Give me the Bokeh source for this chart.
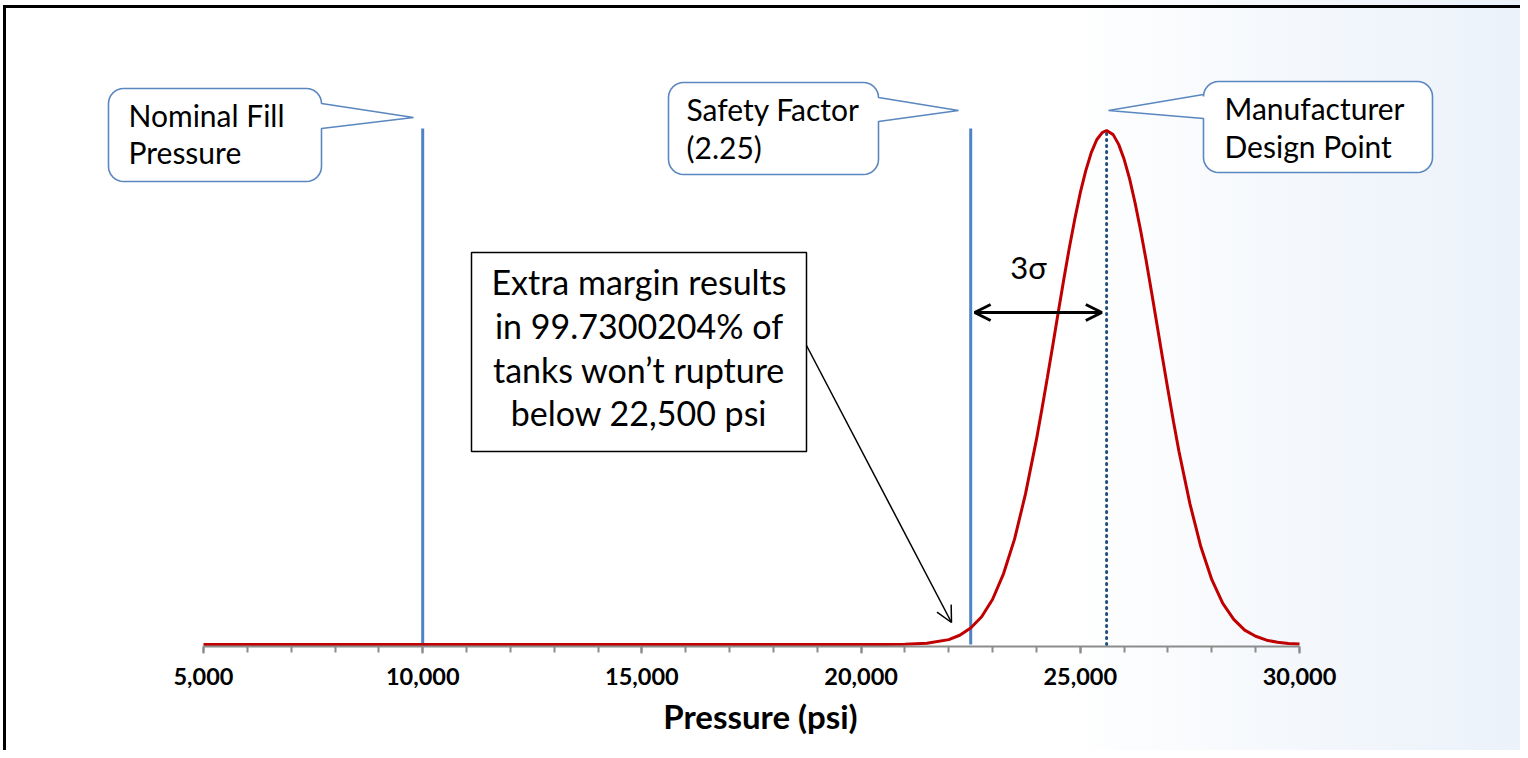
from bokeh.plotting import figure
from bokeh.models import Range1d, SingleIntervalTicker, NumeralTickFormatter, Arrow, OpenHead
from bokeh.core.properties import value
from bokeh.embed import file_html
from bokeh.resources import INLINE
import math

# ---------------- data ----------------
pressure_psi = [5000, 10000, 15000, 19000, 20000, 20500, 21000,
                21500, 22000, 22250, 22500, 22750, 23000, 23250, 23500, 23750, 24000,
                24125, 24250, 24375, 24500, 24625, 24750, 24875, 25000, 25125, 25250,
                25375, 25500, 25600, 25750, 25875, 26000, 26125, 26250, 26375, 26500,
                26625, 26750, 26875, 27000, 27125, 27250, 27500, 27750, 28000, 28250,
                28500, 28750, 29000, 29250, 29500, 29750, 30000]
relative_density = [0, 0, 0, 0, 0.0001, 0.0002, 0.0005,
                    0.0024, 0.0095, 0.018, 0.032, 0.054, 0.088, 0.138, 0.205, 0.293, 0.399,
                    0.458, 0.520, 0.583, 0.648, 0.711, 0.772, 0.828, 0.879, 0.922, 0.957,
                    0.982, 0.996, 1.0, 0.992, 0.973, 0.944, 0.906, 0.859, 0.806, 0.748,
                    0.686, 0.622, 0.558, 0.495, 0.434, 0.376, 0.274, 0.190, 0.126, 0.080,
                    0.049, 0.028, 0.016, 0.0084, 0.0042, 0.0021, 0.001]

nominal_fill_psi = 10000
safety_factor_psi = 22500
design_point_psi = 25600
marker_line_top = 1.004

axis_start, axis_end = 5000, 30000
tick_interval = 5000

callout_texts = [["Nominal Fill", "Pressure"],
                 ["Safety Factor", "(2.25)"],
                 ["Manufacturer", "Design Point"]]
note_lines = ["Extra margin results", "in 99.7300204% of",
              "tanks won\u2019t rupture", "below 22,500 psi"]
sigma_label = "3\u03c3"
x_label = "Pressure (psi)"

# ---------------- layout helpers (page pixels -> data) ----------------
PX_PER_PSI = 1096 / 25000.0


def dx(px):
    return 5000 + (px - 203) / PX_PER_PSI


def dy(py):
    return (644 - py) / 514.0


OX, OY = 0, 0
W, H = 1520, 750
FRAME_BOTTOM = 646

FONT = value("Lato")
BLUE = "#4f83c4"
OUTLINE = "#5b87c0"

p = figure(width=W, height=H, output_backend="svg", toolbar_location=None,
           x_range=Range1d(dx(OX), dx(OX + W)),
           y_range=Range1d(dy(FRAME_BOTTOM), dy(OY)),
           min_border_left=0, min_border_right=0, min_border_top=0,
           min_border_bottom=OY + H - FRAME_BOTTOM)
# slide background with its black frame (top and left edges)
p.styles = {"background": (
    "linear-gradient(#000, #000) 3px 5px / 3px 100% no-repeat, "
    "linear-gradient(#000, #000) 3px 5px / 100% 3px no-repeat, "
    "linear-gradient(to right, #ffffff 0%, #ffffff 70%, #f5f8fc 84%, #ebf2fa 100%)")}
p.background_fill_color = None
p.border_fill_color = None
p.outline_line_color = None
p.yaxis.visible = False
p.xgrid.visible = False
p.ygrid.visible = False

ax = p.xaxis[0]
ax.bounds = (axis_start, axis_end)
ax.ticker = SingleIntervalTicker(interval=tick_interval, num_minor_ticks=5)
ax.formatter = NumeralTickFormatter(format="0,0")
ax.axis_line_color = "#8c8c8c"
ax.axis_line_width = 2
ax.major_tick_line_color = "#8c8c8c"
ax.minor_tick_line_color = "#8c8c8c"
ax.major_tick_line_width = 2
ax.minor_tick_line_width = 2
ax.major_tick_in = 0
ax.major_tick_out = 7
ax.minor_tick_in = 0
ax.minor_tick_out = 6
ax.major_label_text_font = "Lato"
ax.major_label_text_font_style = "bold"
ax.major_label_text_font_size = "23.5px"
ax.major_label_text_color = "black"
ax.major_label_standoff = 14
ax.axis_label = x_label
ax.axis_label_text_font = "Lato"
ax.axis_label_text_font_style = "bold"
ax.axis_label_text_font_size = "33px"
ax.axis_label_text_color = "black"
ax.axis_label_standoff = 8

# vertical marker lines
p.segment(x0=[nominal_fill_psi, safety_factor_psi], y0=[0, 0],
          x1=[nominal_fill_psi, safety_factor_psi], y1=[marker_line_top, marker_line_top],
          line_color=BLUE, line_width=3)
p.segment(x0=[design_point_psi], y0=[0], x1=[design_point_psi], y1=[1.0],
          line_color="#1f4e79", line_width=3, line_dash="1 5", line_cap="round")

# distribution curve
p.line(pressure_psi, relative_density, line_color="#c00000", line_width=3)


# callout shapes
def callout(x0, y0, x1, y1, r, side, b0, b1, tip):
    pts = []

    def arc(cx, cy, a0, a1):
        for k in range(9):
            a = math.radians(a0 + (a1 - a0) * k / 8)
            pts.append((cx + r * math.cos(a), cy + r * math.sin(a)))
    arc(x0 + r, y0 + r, 180, 270)
    arc(x1 - r, y0 + r, 270, 360)
    if side == "right":
        pts += [(x1, b0), tip, (x1, b1)]
    arc(x1 - r, y1 - r, 0, 90)
    arc(x0 + r, y1 - r, 90, 180)
    if side == "left":
        pts += [(x0, b1), tip, (x0, b0)]
    return [dx(a) for a, _ in pts], [dy(b) for _, b in pts]


boxes = [
    dict(box=(108, 88, 321, 181), side="right", base=(103, 128), tip=(413, 117), tx=128, bl=(114, 151.5)),
    dict(box=(668, 82, 878, 174), side="right", base=(97, 121), tip=(958, 110), tx=686, bl=(108.5, 146)),
    dict(box=(1203, 81, 1432, 172), side="left", base=(94, 118), tip=(1108, 110), tx=1224, bl=(107.5, 145)),
]
for b, texts in zip(boxes, callout_texts):
    x0, y0, x1, y1 = b["box"]
    xs, ys = callout(x0, y0, x1, y1, 15, b["side"], b["base"][0], b["base"][1], b["tip"])
    p.patch(xs, ys, fill_color="white", line_color=OUTLINE, line_width=1.6)
    p.text(x=[dx(b["tx"])] * 2, y=[dy(b["bl"][0]), dy(b["bl"][1])], text=texts,
           text_font=FONT, text_font_size="30px", text_color="black",
           text_align="left", text_baseline="alphabetic")

# note box
p.quad(left=dx(471), right=dx(806), top=dy(252), bottom=dy(451),
       fill_color="white", line_color="black", line_width=1.5)
p.text(x=[dx(638.5)] * 4, y=[dy(280.5), dy(324.5), dy(368.5), dy(411.5)], text=note_lines,
       text_font=FONT, text_font_size="34px", text_color="black",
       text_align="center", text_baseline="alphabetic")

# arrows
p.add_layout(Arrow(end=OpenHead(size=16, line_width=1.5, line_color="black"),
                   x_start=dx(806), y_start=dy(345), x_end=dx(951), y_end=dy(622),
                   line_width=1.5, line_color="black"))
p.add_layout(Arrow(start=OpenHead(size=16, line_width=3, line_color="black"),
                   end=OpenHead(size=16, line_width=3, line_color="black"),
                   x_start=safety_factor_psi + 90, y_start=dy(312),
                   x_end=design_point_psi - 110, y_end=dy(312),
                   line_width=3, line_color="black"))
p.text(x=[dx(1028)], y=[dy(266)], text=[sigma_label], text_font=FONT,
       text_font_size="31px", text_color="black", text_align="center",
       text_baseline="alphabetic")

open("out.html", "w").write(file_html(p, INLINE))
